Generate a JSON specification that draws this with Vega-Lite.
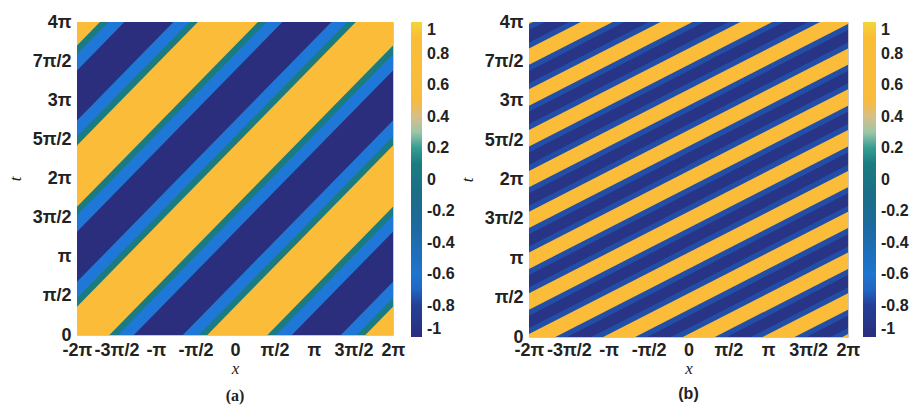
{
  "$schema": "https://vega.github.io/schema/vega-lite/v6.json",
  "background": "white",
  "padding": {"left": 5, "top": 12, "right": 0, "bottom": 0},
  "spacing": 1,
  "config": {
    "view": {"stroke": "#c8c8c8", "strokeWidth": 1},
    "axis": {
      "labelFont": "Liberation Sans", "labelFontWeight": "bold", "labelFontSize": 18, "labelColor": "#222222",
      "ticks": false, "domain": false, "grid": false, "labelOverlap": false, "labelFlush": false,
      "titleFont": "Liberation Serif", "titleFontStyle": "italic", "titleFontWeight": "normal", "titleFontSize": 17, "titleColor": "#222222"
    },
    "legend": {
      "labelFont": "Liberation Sans", "labelFontWeight": "bold", "labelFontSize": 16, "labelColor": "#222222"
    }
  },
  "datasets": {
    "a": [
      {"band": "base", "k": 0, "x": -2, "x2": 2, "y": 0, "y2": 4, "v": -1},
      {"band": "blue", "k": -3, "x": -2, "y": 3.381, "y2": 4.804, "v": -0.65},
      {"band": "blue", "k": -3, "x": 2, "y": 7.505, "y2": 8.928, "v": -0.65},
      {"band": "blue", "k": -2, "x": -2, "y": 1.320, "y2": 2.742, "v": -0.65},
      {"band": "blue", "k": -2, "x": 2, "y": 5.443, "y2": 6.866, "v": -0.65},
      {"band": "blue", "k": -1, "x": -2, "y": -0.742, "y2": 0.680, "v": -0.65},
      {"band": "blue", "k": -1, "x": 2, "y": 3.381, "y2": 4.804, "v": -0.65},
      {"band": "blue", "k": 0, "x": -2, "y": -2.804, "y2": -1.381, "v": -0.65},
      {"band": "blue", "k": 0, "x": 2, "y": 1.320, "y2": 2.742, "v": -0.65},
      {"band": "blue", "k": 1, "x": -2, "y": -4.866, "y2": -3.443, "v": -0.65},
      {"band": "blue", "k": 1, "x": 2, "y": -0.742, "y2": 0.680, "v": -0.65},
      {"band": "teal", "k": -3, "x": -2, "y": 3.588, "y2": 4.598, "v": 0.1},
      {"band": "teal", "k": -3, "x": 2, "y": 7.711, "y2": 8.722, "v": 0.1},
      {"band": "teal", "k": -2, "x": -2, "y": 1.526, "y2": 2.536, "v": 0.1},
      {"band": "teal", "k": -2, "x": 2, "y": 5.649, "y2": 6.660, "v": 0.1},
      {"band": "teal", "k": -1, "x": -2, "y": -0.536, "y2": 0.474, "v": 0.1},
      {"band": "teal", "k": -1, "x": 2, "y": 3.588, "y2": 4.598, "v": 0.1},
      {"band": "teal", "k": 0, "x": -2, "y": -2.598, "y2": -1.588, "v": 0.1},
      {"band": "teal", "k": 0, "x": 2, "y": 1.526, "y2": 2.536, "v": 0.1},
      {"band": "teal", "k": 1, "x": -2, "y": -4.660, "y2": -3.649, "v": 0.1},
      {"band": "teal", "k": 1, "x": 2, "y": -0.536, "y2": 0.474, "v": 0.1},
      {"band": "yellow", "k": -3, "x": -2, "y": 3.701, "y2": 4.485, "v": 0.7},
      {"band": "yellow", "k": -3, "x": 2, "y": 7.825, "y2": 8.608, "v": 0.7},
      {"band": "yellow", "k": -2, "x": -2, "y": 1.639, "y2": 2.423, "v": 0.7},
      {"band": "yellow", "k": -2, "x": 2, "y": 5.763, "y2": 6.546, "v": 0.7},
      {"band": "yellow", "k": -1, "x": -2, "y": -0.423, "y2": 0.361, "v": 0.7},
      {"band": "yellow", "k": -1, "x": 2, "y": 3.701, "y2": 4.485, "v": 0.7},
      {"band": "yellow", "k": 0, "x": -2, "y": -2.485, "y2": -1.701, "v": 0.7},
      {"band": "yellow", "k": 0, "x": 2, "y": 1.639, "y2": 2.423, "v": 0.7},
      {"band": "yellow", "k": 1, "x": -2, "y": -4.546, "y2": -3.763, "v": 0.7},
      {"band": "yellow", "k": 1, "x": 2, "y": -0.423, "y2": 0.361, "v": 0.7}
    ],
    "b": [
      {"band": "base", "k": 0, "x": -2, "x2": 2, "y": 0, "y2": 4, "v": -0.93},
      {"band": "blue", "k": -10, "x": -2, "y": 3.897, "y2": 4.259, "v": -0.76},
      {"band": "blue", "k": -10, "x": 2, "y": 5.969, "y2": 6.331, "v": -0.76},
      {"band": "blue", "k": -9, "x": -2, "y": 3.379, "y2": 3.741, "v": -0.76},
      {"band": "blue", "k": -9, "x": 2, "y": 5.451, "y2": 5.813, "v": -0.76},
      {"band": "blue", "k": -8, "x": -2, "y": 2.861, "y2": 3.223, "v": -0.76},
      {"band": "blue", "k": -8, "x": 2, "y": 4.933, "y2": 5.295, "v": -0.76},
      {"band": "blue", "k": -7, "x": -2, "y": 2.342, "y2": 2.704, "v": -0.76},
      {"band": "blue", "k": -7, "x": 2, "y": 4.415, "y2": 4.777, "v": -0.76},
      {"band": "blue", "k": -6, "x": -2, "y": 1.824, "y2": 2.186, "v": -0.76},
      {"band": "blue", "k": -6, "x": 2, "y": 3.897, "y2": 4.259, "v": -0.76},
      {"band": "blue", "k": -5, "x": -2, "y": 1.306, "y2": 1.668, "v": -0.76},
      {"band": "blue", "k": -5, "x": 2, "y": 3.379, "y2": 3.741, "v": -0.76},
      {"band": "blue", "k": -4, "x": -2, "y": 0.788, "y2": 1.150, "v": -0.76},
      {"band": "blue", "k": -4, "x": 2, "y": 2.860, "y2": 3.222, "v": -0.76},
      {"band": "blue", "k": -3, "x": -2, "y": 0.270, "y2": 0.632, "v": -0.76},
      {"band": "blue", "k": -3, "x": 2, "y": 2.342, "y2": 2.704, "v": -0.76},
      {"band": "blue", "k": -2, "x": -2, "y": -0.248, "y2": 0.114, "v": -0.76},
      {"band": "blue", "k": -2, "x": 2, "y": 1.824, "y2": 2.186, "v": -0.76},
      {"band": "blue", "k": -1, "x": -2, "y": -0.767, "y2": -0.405, "v": -0.76},
      {"band": "blue", "k": -1, "x": 2, "y": 1.306, "y2": 1.668, "v": -0.76},
      {"band": "blue", "k": 0, "x": -2, "y": -1.285, "y2": -0.923, "v": -0.76},
      {"band": "blue", "k": 0, "x": 2, "y": 0.788, "y2": 1.150, "v": -0.76},
      {"band": "blue", "k": 1, "x": -2, "y": -1.803, "y2": -1.441, "v": -0.76},
      {"band": "blue", "k": 1, "x": 2, "y": 0.270, "y2": 0.632, "v": -0.76},
      {"band": "blue", "k": 2, "x": -2, "y": -2.321, "y2": -1.959, "v": -0.76},
      {"band": "blue", "k": 2, "x": 2, "y": -0.248, "y2": 0.114, "v": -0.76},
      {"band": "yellow", "k": -10, "x": -2, "y": 3.974, "y2": 4.182, "v": 0.7},
      {"band": "yellow", "k": -10, "x": 2, "y": 6.046, "y2": 6.254, "v": 0.7},
      {"band": "yellow", "k": -9, "x": -2, "y": 3.456, "y2": 3.664, "v": 0.7},
      {"band": "yellow", "k": -9, "x": 2, "y": 5.528, "y2": 5.736, "v": 0.7},
      {"band": "yellow", "k": -8, "x": -2, "y": 2.938, "y2": 3.146, "v": 0.7},
      {"band": "yellow", "k": -8, "x": 2, "y": 5.010, "y2": 5.218, "v": 0.7},
      {"band": "yellow", "k": -7, "x": -2, "y": 2.419, "y2": 2.627, "v": 0.7},
      {"band": "yellow", "k": -7, "x": 2, "y": 4.492, "y2": 4.700, "v": 0.7},
      {"band": "yellow", "k": -6, "x": -2, "y": 1.901, "y2": 2.109, "v": 0.7},
      {"band": "yellow", "k": -6, "x": 2, "y": 3.974, "y2": 4.182, "v": 0.7},
      {"band": "yellow", "k": -5, "x": -2, "y": 1.383, "y2": 1.591, "v": 0.7},
      {"band": "yellow", "k": -5, "x": 2, "y": 3.456, "y2": 3.664, "v": 0.7},
      {"band": "yellow", "k": -4, "x": -2, "y": 0.865, "y2": 1.073, "v": 0.7},
      {"band": "yellow", "k": -4, "x": 2, "y": 2.937, "y2": 3.145, "v": 0.7},
      {"band": "yellow", "k": -3, "x": -2, "y": 0.347, "y2": 0.555, "v": 0.7},
      {"band": "yellow", "k": -3, "x": 2, "y": 2.419, "y2": 2.627, "v": 0.7},
      {"band": "yellow", "k": -2, "x": -2, "y": -0.171, "y2": 0.037, "v": 0.7},
      {"band": "yellow", "k": -2, "x": 2, "y": 1.901, "y2": 2.109, "v": 0.7},
      {"band": "yellow", "k": -1, "x": -2, "y": -0.690, "y2": -0.482, "v": 0.7},
      {"band": "yellow", "k": -1, "x": 2, "y": 1.383, "y2": 1.591, "v": 0.7},
      {"band": "yellow", "k": 0, "x": -2, "y": -1.208, "y2": -1.000, "v": 0.7},
      {"band": "yellow", "k": 0, "x": 2, "y": 0.865, "y2": 1.073, "v": 0.7},
      {"band": "yellow", "k": 1, "x": -2, "y": -1.726, "y2": -1.518, "v": 0.7},
      {"band": "yellow", "k": 1, "x": 2, "y": 0.347, "y2": 0.555, "v": 0.7},
      {"band": "yellow", "k": 2, "x": -2, "y": -2.244, "y2": -2.036, "v": 0.7},
      {"band": "yellow", "k": 2, "x": 2, "y": -0.171, "y2": 0.037, "v": 0.7}
    ]
  },
  "resolve": {"scale": {"color": "independent"}, "legend": {"color": "independent"}},
  "hconcat": [
    {
      "width": 316,
      "height": 313,
      "data": {"name": "a"},
      "title": {"text": "(a)", "orient": "bottom", "frame": "group", "font": "Liberation Serif", "fontWeight": "bold", "fontSize": 16, "color": "#222222", "offset": 12},
      "encoding": {
        "x": {"field": "x", "type": "quantitative", "title": "x",
          "scale": {"domain": [-2, 2], "nice": false, "zero": false},
          "axis": {"values": [-2, -1.5, -1, -0.5, 0, 0.5, 1, 1.5, 2], "labelPadding": 6, "titlePadding": 1,
            "labelExpr": "['-2π','-3π/2','-π','-π/2','0','π/2','π','3π/2','2π'][round(datum.value*2)+4]"}},
        "y": {"field": "y", "type": "quantitative", "title": "t",
          "scale": {"domain": [0, 4], "nice": false, "zero": false},
          "axis": {"values": [0, 0.5, 1, 1.5, 2, 2.5, 3, 3.5, 4], "labelPadding": 6, "titlePadding": 8,
            "labelExpr": "['0','π/2','π','3π/2','2π','5π/2','3π','7π/2','4π'][round(datum.value*2)]"}},
        "color": {"field": "v", "type": "quantitative",
          "scale": {"domain": [-1, -0.8, -0.65, -0.5, -0.3, -0.1, 0.1, 0.22, 0.3, 0.4, 0.5, 0.9, 1],
            "range": ["#2a2e7c", "#243f95", "#1f78d8", "#1d70c0", "#1c6aa0", "#1a6d88", "#1a7c80", "#3aa295", "#9cc6a6", "#d8be8a", "#f8bb3c", "#fbbd36", "#f3d43a"],
            "interpolate": "rgb"},
          "legend": {"title": null, "orient": "right", "direction": "vertical", "offset": 18, "padding": 0,
            "gradientLength": 315, "gradientThickness": 11, "gradientStrokeWidth": 0, "labelOffset": 5,
            "values": [-1, -0.8, -0.6, -0.4, -0.2, 0, 0.2, 0.4, 0.6, 0.8, 1],
            "labelExpr": "datum.value == 0 ? '0' : (datum.value < 0 ? '-' : '') + toString(abs(round(datum.value * 10) / 10))"}}
      },
      "layer": [
        {"transform": [{"filter": "datum.band == 'base'"}], "mark": {"type": "rect"},
          "encoding": {"x2": {"field": "x2"}, "y2": {"field": "y2"}}},
        {"transform": [{"filter": "datum.band == 'blue'"}], "mark": {"type": "area", "clip": true},
          "encoding": {"y2": {"field": "y2"}, "detail": {"field": "k", "type": "nominal"}}},
        {"transform": [{"filter": "datum.band == 'teal'"}], "mark": {"type": "area", "clip": true},
          "encoding": {"y2": {"field": "y2"}, "detail": {"field": "k", "type": "nominal"}}},
        {"transform": [{"filter": "datum.band == 'yellow'"}], "mark": {"type": "area", "clip": true},
          "encoding": {"y2": {"field": "y2"}, "detail": {"field": "k", "type": "nominal"}}}
      ]
    },
    {
      "width": 319,
      "height": 315,
      "data": {"name": "b"},
      "title": {"text": "(b)", "orient": "bottom", "frame": "group", "font": "Liberation Sans", "fontWeight": "bold", "fontSize": 16, "color": "#222222", "offset": 10},
      "encoding": {
        "x": {"field": "x", "type": "quantitative", "title": "x",
          "scale": {"domain": [-2, 2], "nice": false, "zero": false},
          "axis": {"values": [-2, -1.5, -1, -0.5, 0, 0.5, 1, 1.5, 2], "labelPadding": 4, "titlePadding": 1,
            "labelExpr": "['-2π','-3π/2','-π','-π/2','0','π/2','π','3π/2','2π'][round(datum.value*2)+4]"}},
        "y": {"field": "y", "type": "quantitative", "title": "t",
          "scale": {"domain": [0, 4], "nice": false, "zero": false},
          "axis": {"values": [0, 0.5, 1, 1.5, 2, 2.5, 3, 3.5, 4], "labelPadding": 6, "titlePadding": 8,
            "labelExpr": "['0','π/2','π','3π/2','2π','5π/2','3π','7π/2','4π'][round(datum.value*2)]"}},
        "color": {"field": "v", "type": "quantitative",
          "scale": {"domain": [-1, -0.8, -0.65, -0.5, -0.3, -0.1, 0.1, 0.22, 0.3, 0.4, 0.5, 0.9, 1],
            "range": ["#2a2e7c", "#243f95", "#1f78d8", "#1d70c0", "#1c6aa0", "#1a6d88", "#1a7c80", "#3aa295", "#9cc6a6", "#d8be8a", "#f8bb3c", "#fbbd36", "#f3d43a"],
            "interpolate": "rgb"},
          "legend": {"title": null, "orient": "right", "direction": "vertical", "offset": 15, "padding": 0,
            "gradientLength": 315, "gradientThickness": 13, "gradientStrokeWidth": 0, "labelOffset": 5,
            "values": [-1, -0.8, -0.6, -0.4, -0.2, 0, 0.2, 0.4, 0.6, 0.8, 1],
            "labelExpr": "datum.value == 0 ? '0' : (datum.value < 0 ? '-' : '') + toString(abs(round(datum.value * 10) / 10))"}}
      },
      "layer": [
        {"transform": [{"filter": "datum.band == 'base'"}], "mark": {"type": "rect"},
          "encoding": {"x2": {"field": "x2"}, "y2": {"field": "y2"}}},
        {"transform": [{"filter": "datum.band == 'blue'"}], "mark": {"type": "area", "clip": true},
          "encoding": {"y2": {"field": "y2"}, "detail": {"field": "k", "type": "nominal"}}},
        {"transform": [{"filter": "datum.band == 'yellow'"}], "mark": {"type": "area", "clip": true},
          "encoding": {"y2": {"field": "y2"}, "detail": {"field": "k", "type": "nominal"}}}
      ]
    }
  ]
}
